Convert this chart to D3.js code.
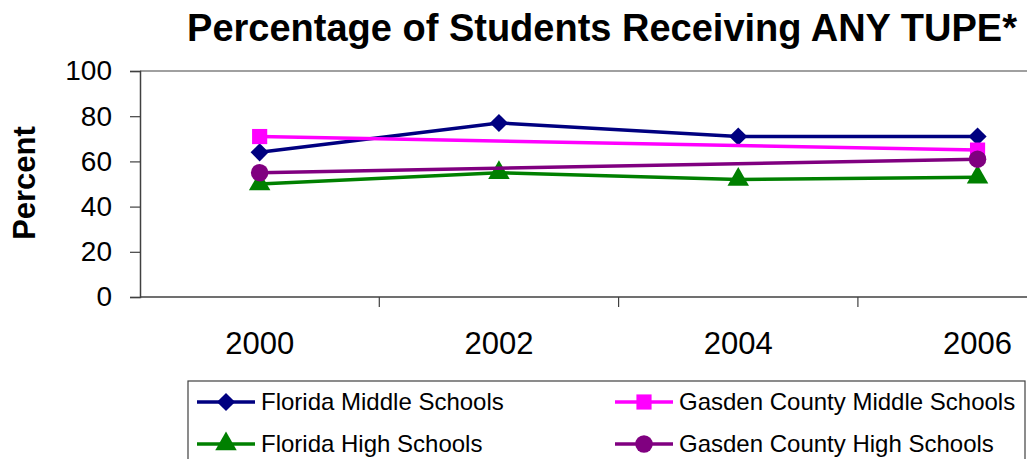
<!DOCTYPE html>
<html lang="en">
<head>
    <meta charset="utf-8">
    <title>Percentage of Students Receiving ANY TUPE</title>
    <style>
        body {
            margin: 0;
            background: #fff;
            font-family: "Liberation Sans", Arial, sans-serif;
        }
    </style>
</head>
<body>
<svg class="chart"></svg>
<script src="https://d3js.org/d3.v7.min.js"></script>
<script>

  const years = ["2000", "2002", "2004", "2006"];
  const yTicks = [0, 20, 40, 60, 80, 100];

  const flMiddle = [64, 77, 71, 71];
  const gcMiddle = [71, null, null, 65];
  const flHigh = [50, 55, 52, 53];
  const gcHigh = [55, null, null, 61];

  const seriesNames = ["Florida Middle Schools", "Gasden County Middle Schools",
    "Florida High Schools", "Gasden County High Schools"];

  // diamond = square turned 45 degrees, like the spreadsheet marker
  const series = [
    {name: seriesNames[0], values: flMiddle, color: "#000080", symbol: d3.symbolSquare, size: 165, rot: 45},
    {name: seriesNames[1], values: gcMiddle, color: "#ff00ff", symbol: d3.symbolSquare, size: 230, rot: 0},
    {name: seriesNames[2], values: flHigh, color: "#008000", symbol: d3.symbolTriangle, size: 200, rot: 0},
    {name: seriesNames[3], values: gcHigh, color: "#800080", symbol: d3.symbolCircle, size: 240, rot: 0}
  ];

  const width = 1027;
  const height = 459;
  const plotLeft = 140, plotTop = 71, plotBottom = 297;
  const band = 239.3;

  const svg = d3.select(".chart")
    .attr("width", width)
    .attr("height", height);

  const x = d3.scaleBand()
    .domain(years)
    .range([plotLeft, plotLeft + band * years.length]);

  const y = d3.scaleLinear()
    .domain([0, 100])
    .range([plotBottom, plotTop]);

  // title
  svg.append("text")
    .attr("x", 602)
    .attr("y", 41)
    .attr("text-anchor", "middle")
    .style("font-size", "38px")
    .style("font-weight", "bold")
    .text("Percentage of Students Receiving ANY TUPE*");

  // plot frame: top border grey
  svg.append("line")
    .attr("x1", plotLeft).attr("x2", width)
    .attr("y1", plotTop).attr("y2", plotTop)
    .attr("stroke", "#808080")
    .attr("stroke-width", 1.5);

  // y axis
  const yAxis = d3.axisLeft(y).tickValues(yTicks).tickSize(10).tickPadding(18);
  const gy = svg.append("g")
    .attr("transform", `translate(${plotLeft},0)`)
    .call(yAxis);
  gy.select(".domain").attr("stroke", "#404040").attr("stroke-width", 1.5);
  gy.selectAll(".tick line").attr("stroke", "#404040").attr("stroke-width", 1.2);
  gy.selectAll(".tick text")
    .style("font-size", "28px")
    .style("font-family", "Liberation Sans, Arial, sans-serif")
    .attr("fill", "#000");

  // x axis: ticks between categories
  const gx = svg.append("g")
    .attr("transform", `translate(0,${plotBottom})`);
  gx.append("line")
    .attr("x1", plotLeft).attr("x2", width)
    .attr("stroke", "#404040").attr("stroke-width", 1.5);
  gx.selectAll("line.sep")
    .data(years.slice(1))
    .enter()
    .append("line")
    .attr("class", "sep")
    .attr("x1", d => x(d)).attr("x2", d => x(d))
    .attr("y1", 0).attr("y2", 10)
    .attr("stroke", "#404040").attr("stroke-width", 1.2);
  gx.selectAll("text")
    .data(years)
    .enter()
    .append("text")
    .attr("x", d => x(d) + x.bandwidth() / 2)
    .attr("y", 57)
    .attr("text-anchor", "middle")
    .style("font-size", "31px")
    .text(d => d);

  // y label
  svg.append("text")
    .attr("transform", "translate(35,183) rotate(-90)")
    .attr("text-anchor", "middle")
    .style("font-size", "31px")
    .style("font-weight", "bold")
    .text("Percent");

  const cx = i => x(years[i]) + x.bandwidth() / 2;

  const line = d3.line()
    .x(d => d.x)
    .y(d => y(d.v));

  series.forEach(s => {
    const pts = s.values
      .map((v, i) => ({x: cx(i), v: v}))
      .filter(p => p.v !== null);

    svg.append("path")
      .datum(pts)
      .attr("fill", "none")
      .attr("stroke", s.color)
      .attr("stroke-width", 3.5)
      .attr("d", line);

    svg.selectAll(null)
      .data(pts)
      .enter()
      .append("path")
      .attr("transform", p => `translate(${p.x},${y(p.v)}) rotate(${s.rot})`)
      .attr("d", d3.symbol().type(s.symbol).size(s.size))
      .attr("fill", s.color);
  });

  // legend
  const legend = svg.append("g");
  legend.append("rect")
    .attr("x", 188).attr("y", 381)
    .attr("width", 837).attr("height", 90)
    .attr("fill", "#fff")
    .attr("stroke", "#404040")
    .attr("stroke-width", 1.2);

  const cols = [197, 615];
  const rows = [402, 444];

  const item = legend.selectAll("g.item")
    .data(series)
    .enter()
    .append("g")
    .attr("class", "item")
    .attr("transform", (d, i) => `translate(${cols[i % 2]},${rows[Math.floor(i / 2)]})`);

  item.append("line")
    .attr("x1", 0).attr("x2", 58)
    .attr("stroke", d => d.color)
    .attr("stroke-width", 3.5);

  item.append("path")
    .attr("transform", d => `translate(29,0) rotate(${d.rot})`)
    .attr("d", d => d3.symbol().type(d.symbol).size(d.size)())
    .attr("fill", d => d.color);

  item.append("text")
    .attr("x", 64)
    .attr("y", 8)
    .style("font-size", "24px")
    .text(d => d.name);

</script>

</body>
</html>
